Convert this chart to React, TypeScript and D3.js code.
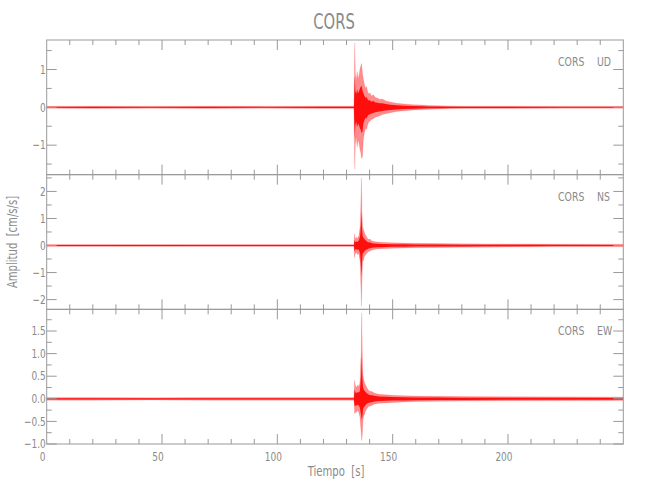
import React from "react";
import * as d3 from "d3";

const STATION = "CORS";
const COMPONENTS = ["UD", "NS", "EW"];
const X_DOMAIN = [0, 250];
const X_MAJOR = [0, 50, 100, 150, 200];
const X_MINOR = [10, 20, 30, 40, 60, 70, 80, 90, 110, 120, 130, 140, 160, 170, 180, 190, 210, 220, 230, 240];

// Waveform envelopes (time s, upper / lower amplitude cm/s/s)
const UD_T = [0, 20, 45, 70, 95, 120, 133.2, 133.4, 133.6, 133.8, 134.2, 134.6, 135.0, 135.4, 135.8, 136.2, 136.5, 136.9, 137.3, 137.8, 138.3, 138.7, 139.2, 139.7, 140.2, 140.8, 141.6, 142.5, 143.5, 144.5, 145.5, 147, 149, 151.7, 155, 159, 163, 166, 170, 175, 181, 200, 225, 250];
const UD_HI = [0.025, 0.03, 0.025, 0.03, 0.025, 0.03, 0.03, 0.85, 1.7, 0.9, 0.7, 0.95, 0.75, 0.85, 1.0, 1.1, 1.16, 0.9, 0.75, 0.6, 0.5, 0.55, 0.4, 0.36, 0.38, 0.3, 0.33, 0.26, 0.24, 0.21, 0.22, 0.17, 0.14, 0.11, 0.09, 0.07, 0.06, 0.05, 0.045, 0.035, 0.03, 0.03, 0.025, 0.025];
const UD_LO = [-0.025, -0.03, -0.025, -0.03, -0.025, -0.03, -0.03, -0.9, -1.64, -1.0, -0.75, -1.05, -0.85, -0.95, -1.1, -1.2, -1.35, -1.3, -0.85, -0.65, -0.55, -0.58, -0.45, -0.38, -0.36, -0.32, -0.3, -0.26, -0.24, -0.22, -0.19, -0.17, -0.14, -0.11, -0.09, -0.07, -0.06, -0.05, -0.045, -0.035, -0.03, -0.03, -0.025, -0.025];

const NS_T = [0, 20, 45, 70, 95, 120, 133.2, 133.5, 133.8, 134.3, 134.8, 135.3, 135.9, 136.2, 136.45, 136.7, 137.0, 137.3, 137.7, 138.1, 138.5, 139.0, 139.6, 140.2, 141, 142, 143.5, 145, 147, 150, 155, 160, 170, 180, 190, 200, 210, 220, 250];
const NS_HI = [0.04, 0.04, 0.035, 0.04, 0.04, 0.04, 0.04, 0.43, 0.25, 0.3, 0.28, 0.35, 0.7, 1.5, 2.5, 1.2, 0.7, 0.6, 0.5, 0.4, 0.35, 0.27, 0.22, 0.24, 0.17, 0.15, 0.13, 0.12, 0.11, 0.1, 0.09, 0.08, 0.07, 0.065, 0.06, 0.06, 0.055, 0.05, 0.045];
const NS_LO = [-0.04, -0.04, -0.035, -0.04, -0.04, -0.04, -0.04, -0.45, -0.3, -0.25, -0.33, -0.3, -0.6, -1.45, -2.25, -1.3, -0.55, -0.55, -0.42, -0.36, -0.32, -0.27, -0.22, -0.2, -0.17, -0.15, -0.13, -0.12, -0.11, -0.1, -0.09, -0.08, -0.07, -0.065, -0.06, -0.055, -0.05, -0.045, -0.045];

const EW_T = [0, 20, 45, 70, 95, 120, 133.2, 133.5, 133.8, 134.3, 134.8, 135.3, 135.8, 136.1, 136.35, 136.6, 136.85, 137.1, 137.4, 137.8, 138.3, 138.8, 139.4, 140, 141, 142, 144, 147, 150, 155, 160, 170, 180, 200, 250];
const EW_HI = [0.03, 0.03, 0.025, 0.03, 0.03, 0.03, 0.03, 0.41, 0.3, 0.25, 0.3, 0.28, 0.35, 0.75, 1.04, 1.9, 1.0, 0.55, 0.42, 0.36, 0.3, 0.25, 0.2, 0.17, 0.16, 0.13, 0.1, 0.09, 0.08, 0.07, 0.06, 0.055, 0.05, 0.045, 0.04];
const EW_LO = [-0.03, -0.03, -0.025, -0.03, -0.03, -0.03, -0.03, -0.33, -0.3, -0.3, -0.25, -0.3, -0.4, -0.6, -0.74, -0.93, -0.8, -0.5, -0.38, -0.34, -0.27, -0.22, -0.18, -0.16, -0.15, -0.12, -0.1, -0.09, -0.08, -0.07, -0.06, -0.055, -0.05, -0.045, -0.04];

const Y_DOMAINS = [[-1.78, 1.78], [-2.36, 2.62], [-1.0, 1.98]];
const Y_MAJOR = [[-1, 0, 1], [-2, -1, 0, 1, 2], [-1.0, -0.5, 0.0, 0.5, 1.0, 1.5]];
const Y_MINOR = [[-1.5, -0.5, 0.5, 1.5], [-1.5, -0.5, 0.5, 1.5, 2.5], [-0.75, -0.25, 0.25, 0.75, 1.25, 1.75]];
const Y_DECIMALS = [0, 0, 1];

const TITLE = "CORS";
const X_TITLE = "Tiempo  [s]";
const Y_TITLE = "Amplitud  [cm/s/s]";

const W = 650, H = 500;
const LEFT = 46.7, RIGHT = 623.3, TOP = 40, BOTTOM = 444;
const AXIS = "#999999";
const TEXT = "#8a8a8a";
const FONT = "'DejaVu Sans Condensed', 'Liberation Sans Narrow', sans-serif";

const fmt = (v: number, d: number) => {
  const s = Math.abs(v).toFixed(d);
  return v < 0 ? "\u2212" + s : s;
};

function T(props: { x: number; y: number; size: number; anchor?: string; sx?: number; rotate?: number; children: React.ReactNode }) {
  const sx = props.sx ?? 0.8;
  return (
    <text
      transform={`translate(${props.x},${props.y})${props.rotate ? ` rotate(${props.rotate})` : ""} scale(${sx},1)`}
      textAnchor={props.anchor ?? "start"}
      fontSize={props.size}
      fill={TEXT}
      fontWeight={300}
      style={{ whiteSpace: "pre" }}
    >
      {props.children}
    </text>
  );
}

export default function App() {
  const x = d3.scaleLinear().domain(X_DOMAIN).range([LEFT, RIGHT]);
  const panelH = (BOTTOM - TOP) / 3;
  const series = [
    { t: UD_T, hi: UD_HI, lo: UD_LO },
    { t: NS_T, hi: NS_HI, lo: NS_LO },
    { t: EW_T, hi: EW_HI, lo: EW_LO },
  ];

  return (
    <svg width={W} height={H} style={{ position: "absolute", left: 0, top: 0, background: "#fff" }} fontFamily={FONT}>
      <rect x={0} y={0} width={W} height={H} fill="#fff" />
      <T x={(LEFT + RIGHT) / 2 - 1} y={29} size={21} anchor="middle" sx={0.78}>{TITLE}</T>
      {series.map((s, i) => {
        const y0 = TOP + i * panelH;
        const y1 = y0 + panelH;
        const y = d3.scaleLinear().domain(Y_DOMAINS[i]).range([y1, y0]);
        const idx = d3.range(s.t.length);
        const outer = d3.area<number>().x((k) => x(s.t[k])).y0((k) => y(s.lo[k])).y1((k) => y(s.hi[k]))(idx) || "";
        const inner = d3.area<number>().x((k) => x(s.t[k])).y0((k) => y(s.lo[k] * 0.5)).y1((k) => y(s.hi[k] * 0.5))(idx) || "";
        const clipId = `clip${i}`;
        return (
          <g key={i}>
            <clipPath id={clipId}>
              <rect x={LEFT} y={y0} width={RIGHT - LEFT} height={panelH} />
            </clipPath>
            <g clipPath={`url(#${clipId})`}>
              <path d={outer} fill="#ff0000" fillOpacity={0.45} stroke="#ff0000" strokeOpacity={0.4} strokeWidth={0.3} />
              <path d={inner} fill="#ff0000" fillOpacity={0.9} />
            </g>
            <rect x={LEFT} y={y0} width={RIGHT - LEFT} height={panelH} fill="none" stroke={AXIS} strokeWidth={1} />
            {X_MAJOR.filter((v) => v > 0).map((v) => (
              <g key={"xm" + v}>
                <line x1={x(v)} x2={x(v)} y1={y1} y2={y1 - 10} stroke={AXIS} />
                <line x1={x(v)} x2={x(v)} y1={y0} y2={y0 + 10} stroke={AXIS} />
              </g>
            ))}
            {X_MINOR.map((v) => (
              <g key={"xn" + v}>
                <line x1={x(v)} x2={x(v)} y1={y1} y2={y1 - 5} stroke={AXIS} />
                <line x1={x(v)} x2={x(v)} y1={y0} y2={y0 + 5} stroke={AXIS} />
              </g>
            ))}
            {Y_MAJOR[i].map((v) => (
              <g key={"ym" + v}>
                <line x1={LEFT} x2={LEFT + 10} y1={y(v)} y2={y(v)} stroke={AXIS} />
                <line x1={RIGHT} x2={RIGHT - 10} y1={y(v)} y2={y(v)} stroke={AXIS} />
                <T x={LEFT - 1} y={y(v) + 4.2} size={12.5} anchor="end">{fmt(v, Y_DECIMALS[i])}</T>
              </g>
            ))}
            {Y_MINOR[i].filter((v) => v > Y_DOMAINS[i][0] && v < Y_DOMAINS[i][1]).map((v) => (
              <g key={"yn" + v}>
                <line x1={LEFT} x2={LEFT + 5} y1={y(v)} y2={y(v)} stroke={AXIS} />
                <line x1={RIGHT} x2={RIGHT - 5} y1={y(v)} y2={y(v)} stroke={AXIS} />
              </g>
            ))}
            <T x={558} y={y0 + 26} size={13}>{STATION}</T>
            <T x={597} y={y0 + 26} size={13}>{COMPONENTS[i]}</T>
          </g>
        );
      })}
      {X_MAJOR.map((v) => (
        <T key={"xl" + v} x={x(v) - 4} y={461} size={12.5} anchor="middle">{String(v)}</T>
      ))}
      <T x={(LEFT + RIGHT) / 2 + 1} y={476} size={14} anchor="middle">{X_TITLE}</T>
      <T x={17} y={(TOP + BOTTOM) / 2} size={14} anchor="middle" rotate={-90}>{Y_TITLE}</T>
    </svg>
  );
}
